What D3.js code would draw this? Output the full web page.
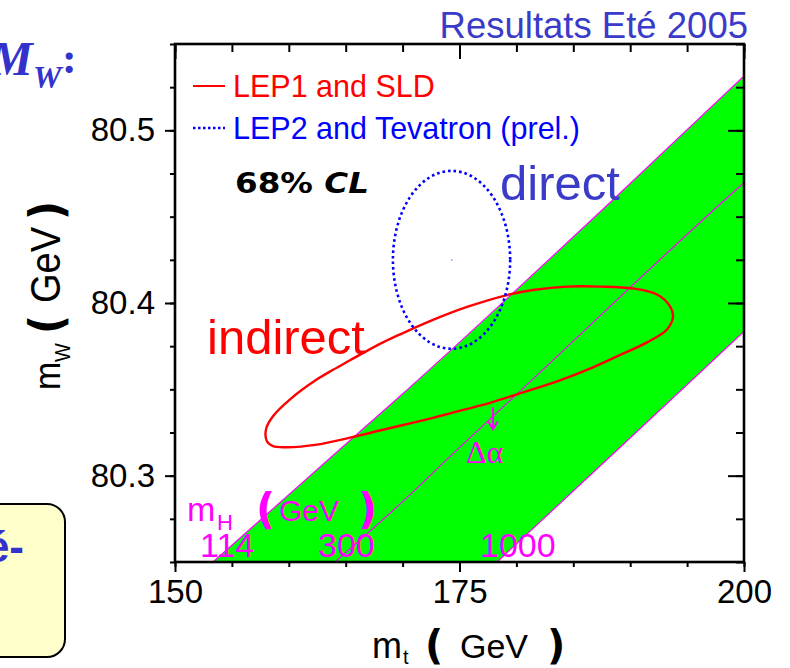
<!DOCTYPE html>
<html>
<head>
<meta charset="utf-8">
<script src="https://cdn.jsdelivr.net/npm/d3@7"></script>
<style>
  body { margin: 0; background: #fff; }
  svg { display: block; }
  text { font-family: "Liberation Sans", Arial, sans-serif; }
</style>
</head>
<body>
<svg id="chart" width="790" height="668"></svg>
<script>
// ---- axis ticks ----
const xTicks = [150, 175, 200];
const xMinor = [150, 155, 160, 165, 170, 175, 180, 185, 190, 195, 200];
const yTicks = [80.3, 80.4, 80.5];
const yMinor = [80.25, 80.275, 80.3, 80.325, 80.35, 80.375, 80.4, 80.425, 80.45, 80.475, 80.5, 80.525, 80.55];

// ---- SM prediction band: (mt, mW) along lines of constant mH ----
const mhLabels = ["114", "300", "1000"];
const mh114 = [[153.34, 80.25], [164.50, 80.3153], [169.77, 80.3460], [188.49, 80.4598], [200, 80.5315]];
const mh300 = [[164.06, 80.25], [169.77, 80.2835], [175.04, 80.3165], [180.49, 80.3500], [198.33, 80.4598], [200, 80.4697]];
const mh1000 = [[178.30, 80.25], [188.93, 80.3153], [200, 80.3835]];

// ---- direct measurement (LEP2 and Tevatron, prel.) ----
const directMt = 174.3, directMtErr = 3.4;
const directMw = 80.425, directMwErr = 0.034;
const cl68Scale = 1.515;   // 2D 68% CL contour in units of sigma

// ---- indirect 68% CL contour (LEP1 and SLD) ----
const indirect = [
  [158.00, 80.3269], [158.61, 80.3344], [160.11, 80.3442], [162.48, 80.3558],
  [163.89, 80.3613], [165.38, 80.3668], [166.87, 80.3723], [168.28, 80.3772],
  [169.77, 80.3818], [172.67, 80.3902], [175.66, 80.3977], [179.17, 80.4046],
  [181.46, 80.4075], [184.45, 80.4095], [187.35, 80.4095], [190.25, 80.4084],
  [192.36, 80.4049], [193.50, 80.3980], [193.76, 80.3922], [193.23, 80.3847],
  [191.48, 80.3772], [188.84, 80.3691], [186.73, 80.3627], [183.83, 80.3552],
  [180.05, 80.3471], [177.68, 80.3422], [174.17, 80.3361], [172.67, 80.3335],
  [169.77, 80.3289], [168.28, 80.3266], [165.38, 80.3220], [162.48, 80.3180],
  [159.84, 80.3165], [158.61, 80.3171], [158.08, 80.3199]
];

// Δα shift arrow
const alphaArrow = [[177.94, 80.3396], [177.94, 80.3269]];

const svg = d3.select("#chart");
const M = { left: 175, right: 744, top: 44, bottom: 562 };
const x = d3.scaleLinear().domain([150, 200]).range([M.left, M.right]);
const y = d3.scaleLinear().domain([80.25, 80.55]).range([M.bottom, M.top]);

const GREEN = "#00ff00", MAGENTA = "#ff00ff", RED = "#ff0000", BLUE = "#0000ff", SLATE = "#3b3bc9";

// ---- slide fragments around the plot ----
const mw = svg.append("text").attr("fill", "#3333cc")
  .style("font-family", "'Liberation Serif', 'Times New Roman', serif")
  .style("font-weight", "bold").style("font-style", "italic");
mw.append("tspan").attr("x", -10).attr("y", 75).style("font-size", "48px").text("M");
mw.append("tspan").attr("x", 33).attr("y", 88).style("font-size", "32px").text("W");
mw.append("tspan").attr("x", 62).attr("y", 73).style("font-size", "44px").style("font-style", "normal").text(":");

svg.append("rect").attr("x", -30).attr("y", 504).attr("width", 95).attr("height", 153)
  .attr("rx", 18).attr("fill", "#ffffcc").attr("stroke", "#000").attr("stroke-width", 2);
svg.append("text").attr("x", 24).attr("y", 562).attr("text-anchor", "end")
  .attr("fill", "#3333cc").style("font-size", "44px").style("font-weight", "bold").text("é-");

// ---- plot area ----
svg.append("defs").append("clipPath").attr("id", "plotClip")
  .append("rect").attr("x", M.left).attr("y", M.top)
  .attr("width", M.right - M.left).attr("height", M.bottom - M.top);
const plot = svg.append("g").attr("clip-path", "url(#plotClip)");

const lineMono = d3.line().x(d => x(d[0])).y(d => y(d[1])).curve(d3.curveMonotoneX);

// band between mH = 114 and mH = 1000
const upperPath = lineMono(mh114);
const lowerPath = lineMono(mh1000.slice().reverse());
plot.append("path").attr("d", upperPath + "L" + lowerPath.slice(1) + "Z")
  .attr("fill", GREEN).attr("stroke", "none");
[mh114, mh300, mh1000].forEach(pts => {
  plot.append("path").attr("d", lineMono(pts)).attr("fill", "none")
    .attr("stroke", MAGENTA).attr("stroke-width", 1.2);
});

// indirect contour
const closedLine = d3.line().x(d => x(d[0])).y(d => y(d[1])).curve(d3.curveCatmullRomClosed.alpha(0.5));
plot.append("path").attr("d", closedLine(indirect)).attr("fill", "none")
  .attr("stroke", RED).attr("stroke-width", 2.4);

// direct ellipse
plot.append("ellipse")
  .attr("cx", x(directMt)).attr("cy", y(directMw))
  .attr("rx", x(directMt + cl68Scale * directMtErr) - x(directMt))
  .attr("ry", y(directMw) - y(directMw + cl68Scale * directMwErr))
  .attr("fill", "none").attr("stroke", BLUE).attr("stroke-width", 2.6)
  .attr("stroke-dasharray", "2.6,3");
plot.append("rect").attr("x", x(directMt) - 0.5).attr("y", y(directMw) - 0.5)
  .attr("width", 1.5).attr("height", 1.2).attr("fill", "#6a6aff");

// Δα arrow
const ax = x(alphaArrow[0][0]), ay0 = y(alphaArrow[0][1]), ay1 = y(alphaArrow[1][1]);
plot.append("path")
  .attr("d", `M${ax},${ay0}L${ax},${ay1}M${ax - 5},${ay1 - 8}L${ax},${ay1}L${ax + 5},${ay1 - 8}`)
  .attr("fill", "none").attr("stroke", MAGENTA).attr("stroke-width", 2);
svg.append("text").attr("x", 466).attr("y", 463).attr("fill", MAGENTA)
  .style("font-family", "'Liberation Serif', 'Times New Roman', serif")
  .style("font-size", "32px").text("Δα");

// ---- labels inside the plot ----
svg.append("text").attr("x", 748).attr("y", 38).attr("text-anchor", "end")
  .attr("fill", SLATE).style("font-size", "36.5px").text("Resultats Eté 2005");

// legend
svg.append("line").attr("x1", 193).attr("x2", 225).attr("y1", 86).attr("y2", 86)
  .attr("stroke", RED).attr("stroke-width", 2);
svg.append("text").attr("x", 233).attr("y", 97).attr("fill", RED)
  .style("font-size", "30.5px").text("LEP1 and SLD");
svg.append("line").attr("x1", 193).attr("x2", 225).attr("y1", 128).attr("y2", 128)
  .attr("stroke", BLUE).attr("stroke-width", 2.5).attr("stroke-dasharray", "2.5,2.5");
svg.append("text").attr("x", 233).attr("y", 139).attr("fill", BLUE)
  .style("font-size", "30.5px").text("LEP2 and Tevatron (prel.)");

const cl = svg.append("text").attr("x", 235).attr("y", 193)
  .attr("textLength", 134).attr("lengthAdjust", "spacingAndGlyphs")
  .style("font-family", "'DejaVu Sans', sans-serif").style("font-weight", "bold")
  .style("font-size", "28px").attr("fill", "#000");
cl.append("tspan").text("68% ");
cl.append("tspan").style("font-style", "italic").text("CL");

svg.append("text").attr("x", 500).attr("y", 200).attr("fill", SLATE)
  .style("font-size", "49px").text("direct");
svg.append("text").attr("x", 207).attr("y", 354).attr("fill", RED)
  .style("font-size", "49px").text("indirect");

// mH labels
const mhT = svg.append("text").attr("fill", MAGENTA);
mhT.append("tspan").attr("x", 187).attr("y", 521).style("font-size", "34px").text("m");
mhT.append("tspan").attr("x", 217).attr("y", 530).style("font-size", "22px").text("H");
svg.append("text").attr("x", 256).attr("y", 524).attr("fill", MAGENTA)
  .style("font-family", "'DejaVu Sans', sans-serif").style("font-weight", "bold")
  .style("font-size", "42px").text("(");
svg.append("text").attr("x", 279).attr("y", 521).attr("fill", MAGENTA)
  .style("font-size", "30px").text("GeV");
svg.append("text").attr("x", 358).attr("y", 524).attr("fill", MAGENTA)
  .style("font-family", "'DejaVu Sans', sans-serif").style("font-weight", "bold")
  .style("font-size", "42px").text(")");
const mhPos = [[200, 557], [318, 557], [480, 557]];
mhLabels.forEach((t, i) => {
  svg.append("text").attr("x", mhPos[i][0]).attr("y", mhPos[i][1]).attr("fill", MAGENTA)
    .style("font-size", "34px").text(t);
});

// ---- axes ----
function styleAxis(g) {
  g.select(".domain").remove();
  g.selectAll(".tick line").attr("stroke", "#000").attr("stroke-width", 2);
  g.selectAll(".tick text").style("font-family", "'Liberation Sans', Arial, sans-serif")
    .style("font-size", "33px").attr("fill", "#000");
}
const fmt = d3.format(".1f");
svg.append("g").attr("transform", `translate(0,${M.bottom})`)
  .call(d3.axisBottom(x).tickValues(xMinor).tickSize(5).tickFormat("")).call(styleAxis);
svg.append("g").attr("transform", `translate(0,${M.bottom})`)
  .call(d3.axisBottom(x).tickValues(xTicks).tickSize(10).tickPadding(8).tickFormat(d3.format("d")))
  .call(styleAxis);
svg.append("g").attr("transform", `translate(0,${M.top})`)
  .call(d3.axisTop(x).tickValues(xMinor).tickSize(-8).tickFormat("")).call(styleAxis);
svg.append("g").attr("transform", `translate(0,${M.top})`)
  .call(d3.axisTop(x).tickValues(xTicks).tickSize(-15).tickFormat("")).call(styleAxis);
svg.append("g").attr("transform", `translate(${M.left},0)`)
  .call(d3.axisLeft(y).tickValues(yMinor).tickSize(5).tickFormat("")).call(styleAxis);
svg.append("g").attr("transform", `translate(${M.left},0)`)
  .call(d3.axisLeft(y).tickValues(yTicks).tickSize(10).tickPadding(10).tickFormat(fmt))
  .call(styleAxis);
svg.append("g").attr("transform", `translate(${M.right},0)`)
  .call(d3.axisRight(y).tickValues(yMinor).tickSize(-8).tickFormat("")).call(styleAxis);
svg.append("g").attr("transform", `translate(${M.right},0)`)
  .call(d3.axisRight(y).tickValues(yTicks).tickSize(-16).tickFormat("")).call(styleAxis);

svg.append("rect").attr("x", M.left).attr("y", M.top)
  .attr("width", M.right - M.left).attr("height", M.bottom - M.top)
  .attr("fill", "none").attr("stroke", "#000").attr("stroke-width", 2.6);

// axis titles
const xt = svg.append("text").attr("fill", "#000");
xt.append("tspan").attr("x", 372).attr("y", 658).style("font-size", "36px").text("m");
xt.append("tspan").attr("x", 403).attr("y", 664).style("font-size", "20px").text("t");
svg.append("text").attr("x", 425).attr("y", 659).style("font-family", "'DejaVu Sans', sans-serif")
  .style("font-weight", "bold").style("font-size", "40px").text("(");
svg.append("text").attr("x", 460).attr("y", 658).style("font-size", "34px").text("GeV");
svg.append("text").attr("x", 547).attr("y", 659).style("font-family", "'DejaVu Sans', sans-serif")
  .style("font-weight", "bold").style("font-size", "40px").text(")");

// y title, rotated; glyphs slightly stretched across the reading direction
const yt = svg.append("g").attr("transform", "translate(60,390) rotate(-90) scale(1,1.1)");
yt.append("text").attr("x", 0).attr("y", 0).style("font-size", "34px").text("m");
yt.append("text").attr("x", 28).attr("y", 9).style("font-size", "20px").text("W");
yt.append("text").attr("x", 56).attr("y", 2).style("font-family", "'DejaVu Sans', sans-serif")
  .style("font-weight", "bold").style("font-size", "42px").text("(");
yt.append("text").attr("x", 87).attr("y", 0).style("font-size", "38px").text("GeV");
yt.append("text").attr("x", 170).attr("y", 2).style("font-family", "'DejaVu Sans', sans-serif")
  .style("font-weight", "bold").style("font-size", "42px").text(")");
</script>
</body>
</html>
